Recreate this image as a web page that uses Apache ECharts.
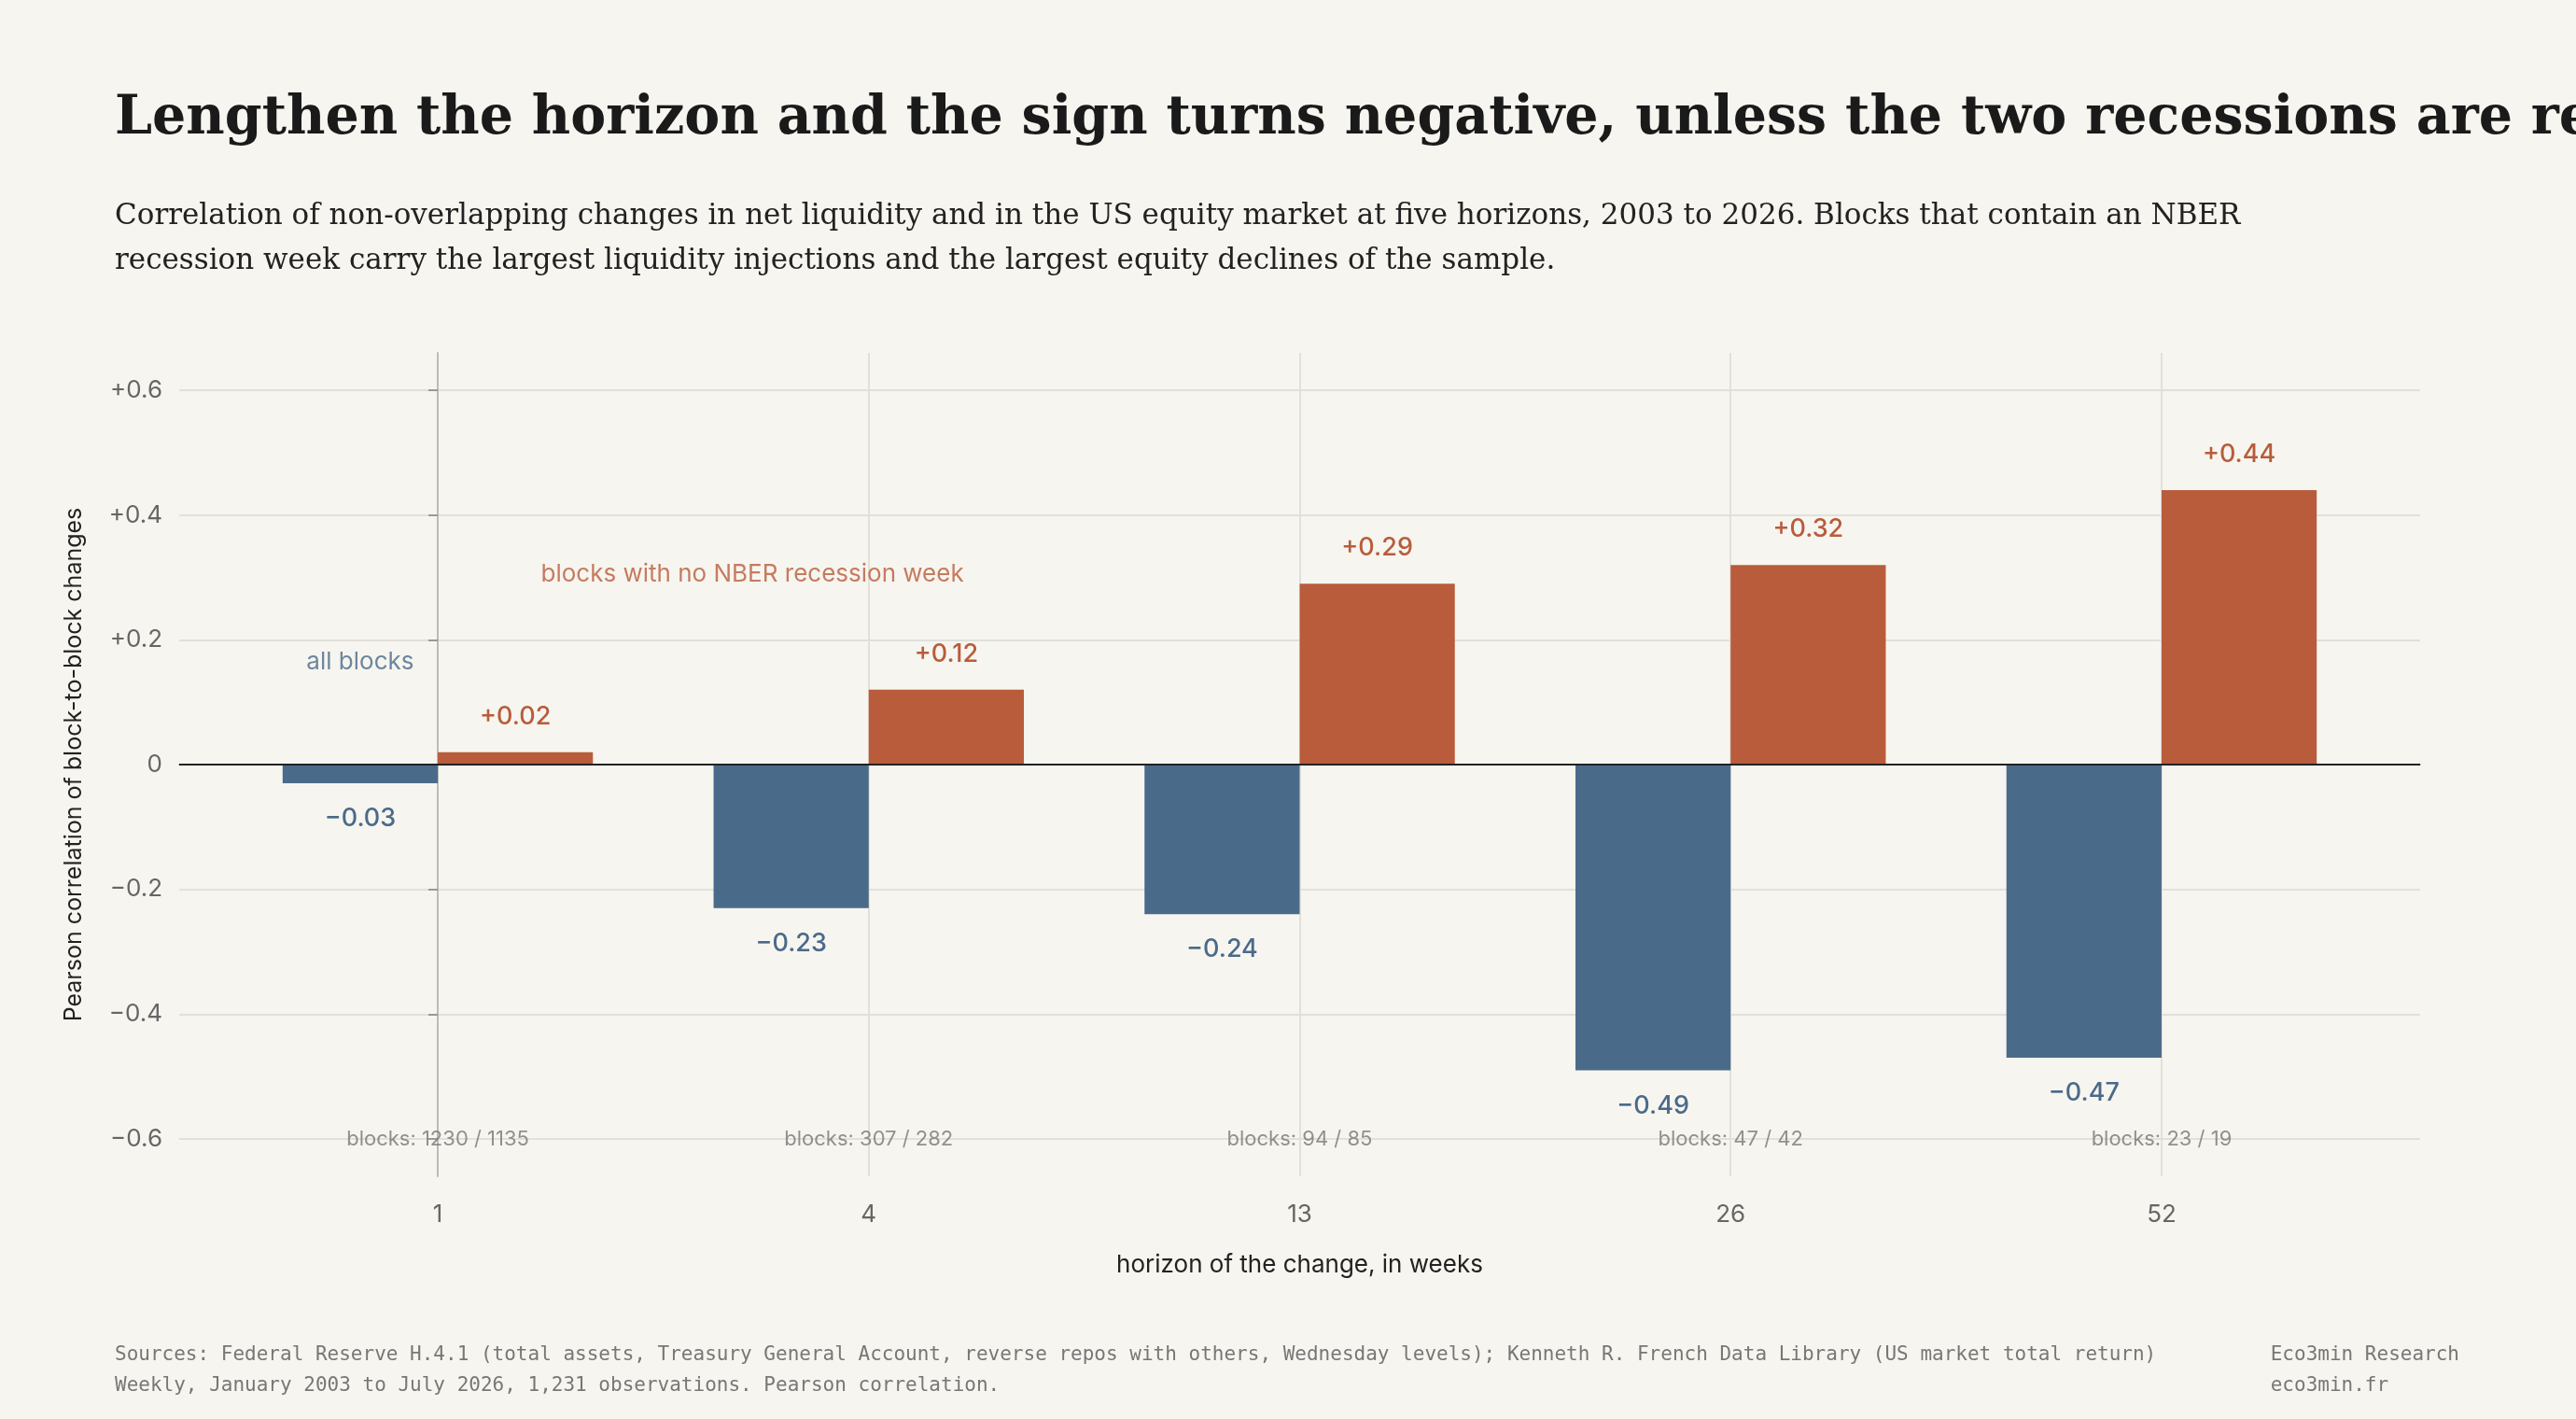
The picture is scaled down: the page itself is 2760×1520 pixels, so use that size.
<!DOCTYPE html>
<html><head><meta charset="utf-8">
<script src="https://cdn.jsdelivr.net/npm/echarts@6/dist/echarts.min.js"></script>
<style>html,body{margin:0;padding:0;background:#f7f5ef}#c{width:2760px;height:1520px}</style>
</head><body><div id="c"></div>
<script>
const horizons = ['1', '4', '13', '26', '52'];
const allBlocks = [-0.03, -0.23, -0.24, -0.49, -0.47];
const noRecession = [0.02, 0.12, 0.29, 0.32, 0.44];
const blockCounts = ['blocks: 1230 / 1135', 'blocks: 307 / 282', 'blocks: 94 / 85', 'blocks: 47 / 42', 'blocks: 23 / 19'];
const yTicks = [-0.6, -0.4, -0.2, 0, 0.2, 0.4, 0.6];

const BLUE = '#4a6a8a', ORANGE = '#b85c3c', SANS = 'Inter';
const BARW = 0.36; // in category units
const fmt = v => v === 0 ? '0' : (v > 0 ? '+' : '\u2212') + Math.abs(v).toFixed(2);
const fmtT = v => Math.abs(v) < 1e-9 ? '0' : (v > 0 ? '+' : '\u2212') + Math.abs(v).toFixed(1);

function barSeries(name, vals, side, color, labelPos) {
  return {
    type: 'custom', name,
    data: vals.map((v, i) => [i, v]),
    renderItem(params, api) {
      const i = api.value(0), v = api.value(1);
      const x0 = side < 0 ? i - BARW : i, x1 = side < 0 ? i : i + BARW;
      const p0 = api.coord([x0, 0]), p1 = api.coord([x1, v]);
      const lblP = api.coord([(x0 + x1) / 2, v]);
      return { type: 'group', children: [
        { type: 'rect', shape: { x: p0[0], y: Math.min(p0[1], p1[1]), width: p1[0] - p0[0], height: Math.abs(p1[1] - p0[1]) }, style: { fill: color } },
        { type: 'text', x: lblP[0], y: lblP[1] + (v < 0 ? 38 : -38), style: { text: fmt(v), fill: color, font: '500 27px ' + SANS, align: 'center', verticalAlign: 'middle' } }
      ]};
    },
    z: 3
  };
}

const chart = echarts.init(document.getElementById('c'));
chart.setOption({
  backgroundColor: '#f7f5ef',
  animation: false,
  grid: { left: 192, right: 167, top: 378, bottom: 260 },
  xAxis: {
    type: 'value', min: -0.6, max: 4.6,
    axisLine: { show: true, lineStyle: { color: '#bbbbbb', width: 2 } },
    axisTick: { show: false, customValues: [0, 1, 2, 3, 4] },
    axisLabel: { customValues: [0, 1, 2, 3, 4], formatter: v => horizons[Math.round(v)], color: '#666', fontFamily: SANS, fontSize: 26, margin: 28 },
    splitLine: { show: true, lineStyle: { color: '#e2e0da', width: 2 } },
    name: 'horizon of the change, in weeks', nameLocation: 'middle', nameGap: 82,
    nameTextStyle: { color: '#222', fontFamily: SANS, fontSize: 26 }
  },
  yAxis: {
    type: 'value', min: -0.66, max: 0.66,
    axisLine: { show: true, lineStyle: { color: '#bbbbbb', width: 2 } },
    axisTick: { show: true, customValues: yTicks, length: 10, lineStyle: { color: '#999', width: 2 } },
    axisLabel: { customValues: yTicks, formatter: fmtT, color: '#666', fontFamily: SANS, fontSize: 26, margin: 18 },
    splitLine: { show: true, lineStyle: { color: '#e2e0da', width: 2 } },
    name: 'Pearson correlation of block-to-block changes', nameLocation: 'middle', nameGap: 100,
    nameTextStyle: { color: '#222', fontFamily: SANS, fontSize: 25 }
  },
  series: [
    barSeries('all blocks', allBlocks, -1, BLUE),
    barSeries('blocks with no NBER recession week', noRecession, 1, ORANGE),
    {
      type: 'scatter', symbolSize: 0, silent: true,
      data: blockCounts.map((t, i) => ({ value: [i, -0.6], label: { show: true, formatter: t, position: 'inside', color: '#777', fontFamily: SANS, fontSize: 22 } })),
      markLine: { silent: true, symbol: 'none', label: { show: false }, lineStyle: { color: '#222', width: 2, type: 'solid' }, data: [{ yAxis: 0 }] },
      z: 4
    },
    {
      type: 'scatter', symbolSize: 0, silent: true,
      data: [
        { value: [-0.18, 0.164], label: { show: true, formatter: 'all blocks', position: 'inside', color: BLUE, fontFamily: SANS, fontSize: 26 } },
        { value: [0.73, 0.305], label: { show: true, formatter: 'blocks with no NBER recession week', position: 'inside', color: ORANGE, fontFamily: SANS, fontSize: 26 } }
      ]
    }
  ],
  graphic: [
    { type: 'text', left: 123, top: 100, style: { text: 'Lengthen the horizon and the sign turns negative, unless the two recessions are removed', font: 'bold 57px "DejaVu Serif"', fill: '#1a1a1a' } },
    { type: 'text', left: 123, top: 208, style: { text: 'Correlation of non-overlapping changes in net liquidity and in the US equity market at five horizons, 2003 to 2026. Blocks that contain an NBER\nrecession week carry the largest liquidity injections and the largest equity declines of the sample.', font: '31px "DejaVu Serif"', lineHeight: 48, fill: '#222' } },
    { type: 'text', left: 123, top: 1435, style: { text: 'Sources: Federal Reserve H.4.1 (total assets, Treasury General Account, reverse repos with others, Wednesday levels); Kenneth R. French Data Library (US market total return)\nWeekly, January 2003 to July 2026, 1,231 observations. Pearson correlation.', font: '21px "DejaVu Sans Mono"', lineHeight: 33, fill: '#777' } },
    { type: 'text', right: 125, top: 1435, style: { text: 'Eco3min Research\neco3min.fr', font: '21px "DejaVu Sans Mono"', lineHeight: 33, fill: '#777', align: 'right' } }
  ]
});
</script></body></html>
